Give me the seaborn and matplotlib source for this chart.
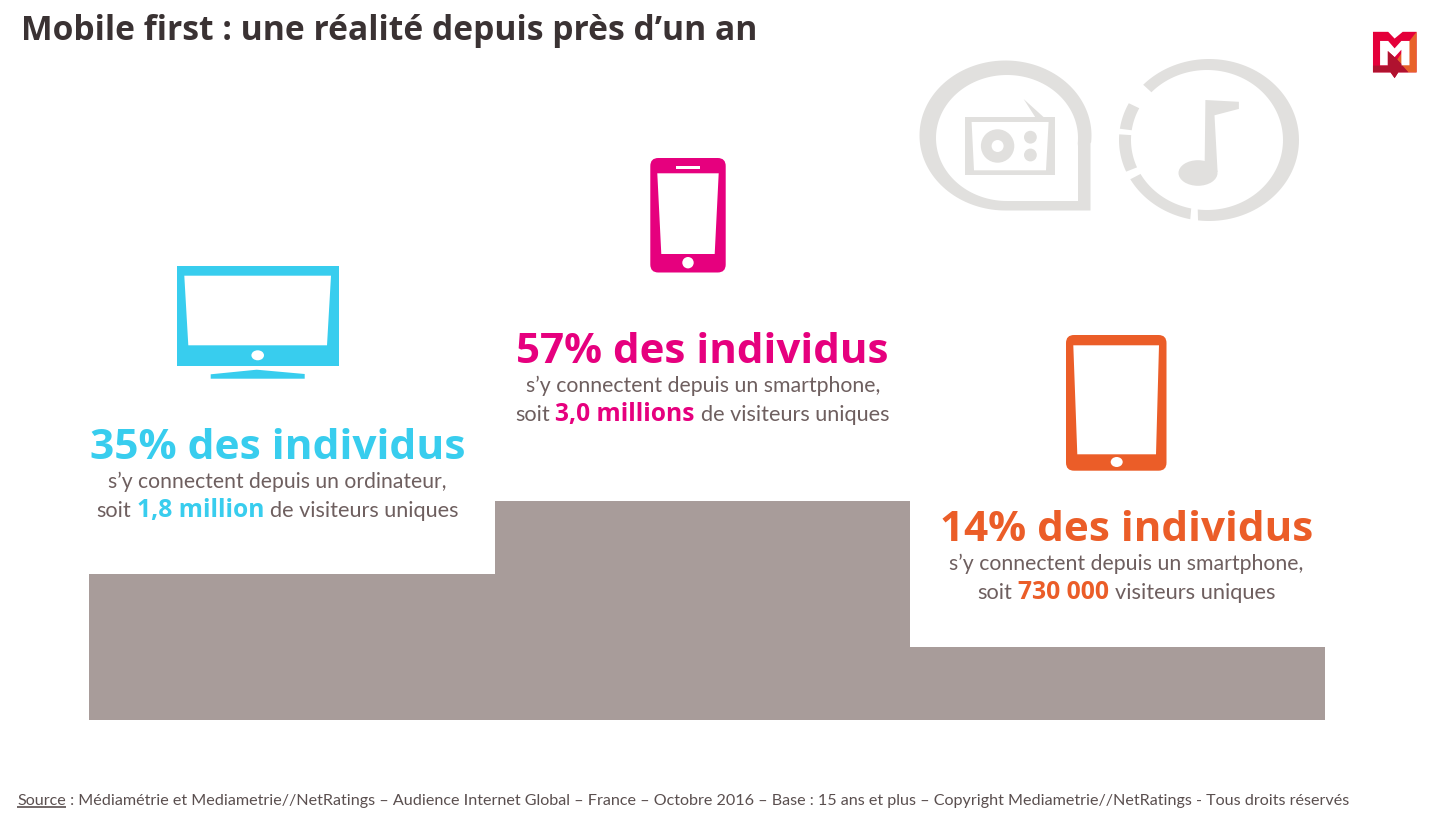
import numpy as np
import pandas as pd
import seaborn as sns
import matplotlib
matplotlib.use("Agg")
import matplotlib.pyplot as plt
from matplotlib.patches import Polygon, Ellipse, FancyBboxPatch, Rectangle

devices = ["Ordinateur", "Smartphone", "Tablette"]
step_heights = [2, 3, 1]
step_widths = [406, 415, 415]
palette = ["#A89C9A", "#A89C9A", "#A89C9A"]

title = "Mobile first : une réalité depuis près d’un an"
headlines = ["35% des individus", "57% des individus", "14% des individus"]
line_one = ["s’y connectent depuis un ordinateur,",
            "s’y connectent depuis un smartphone,",
            "s’y connectent depuis un smartphone,"]
line_two_lead = ["soit", "soit", "soit"]
line_two_value = ["1,8 million", "3,0 millions", "730 000"]
line_two_tail = ["de visiteurs uniques", "de visiteurs uniques", "visiteurs uniques"]
source_label = "Source"
source_rest = " : Médiamétrie et Mediametrie//NetRatings – Audience Internet Global – France – Octobre 2016 – Base : 15 ans et plus – Copyright Mediametrie//NetRatings - Tous droits réservés"

CYAN, PINK, ORANGE = "#38CDEE", "#E6007E", "#EB5D28"
GREY_TEXT, DARK, ICON = "#6E5F5F", "#3A3233", "#E1E0DE"
W, H = 1431, 818
FONT = "Lato"
HEAVY = "Open Sans"

sns.set_theme(style="white")
plt.rcParams["font.family"] = [FONT, "DejaVu Sans"]

fig = plt.figure(figsize=(W / 100, H / 100), dpi=100, facecolor="white")

# Bars
ax = fig.add_axes([89 / W, (H - 720) / H, 1236 / W, 219 / H])
df = pd.DataFrame({"device": devices, "step": step_heights})
sns.barplot(data=df, x="device", y="step", hue="device", palette=palette,
            width=1.0, legend=False, saturation=1, ax=ax)
edges = np.concatenate([[0], np.cumsum(step_widths)])
for p, left, width in zip(ax.patches, edges[:-1], step_widths):
    p.set_x(left)
    p.set_width(width)
    p.set_linewidth(0)
ax.set_xlim(0, edges[-1])
ax.set_ylim(0, max(step_heights))
ax.axis("off")

# Pixel overlay
px = fig.add_axes([0, 0, 1, 1], facecolor="none")
px.set_xlim(0, W)
px.set_ylim(H, 0)
px.axis("off")
renderer = fig.canvas.get_renderer()


def poly(points, color, z=3):
    px.add_patch(Polygon(points, closed=True, fc=color, ec="none", zorder=z))


def ell(cx, cy, rx, ry, color, z=4):
    px.add_patch(Ellipse((cx, cy), 2 * rx, 2 * ry, fc=color, ec="none", zorder=z))


def rrect(x0, y0, x1, y1, r, color, z=3):
    px.add_patch(FancyBboxPatch((x0 + r, y0 + r), x1 - x0 - 2 * r, y1 - y0 - 2 * r,
                                boxstyle=f"round,pad={r},rounding_size={r}",
                                fc=color, ec="none", zorder=z))


def fit(x0, x1, y, s, color, weight="normal", size=20, family=FONT):
    t = px.text(x0, y, s, color=color, fontweight=weight, fontsize=size,
                family=[family, "DejaVu Sans"], va="baseline", ha="left", zorder=6)
    for _ in range(3):
        w = t.get_window_extent(renderer).width
        t.set_fontsize(t.get_fontsize() * (x1 - x0) / w)
    return t


def runs(x0, x1, y, parts, gap=6.0):
    """parts: list of (text, colour, weight, size, family); fit into x0..x1."""
    items = []
    for s, c, wt, sz, fam in parts:
        items.append(px.text(0, y, s, color=c, fontweight=wt, fontsize=sz,
                             family=[fam, "DejaVu Sans"],
                             va="baseline", ha="left", zorder=6))
    ws = [t.get_window_extent(renderer).width for t in items]
    k = (x1 - x0 - gap * (len(items) - 1)) / sum(ws)
    x = x0
    for t, w in zip(items, ws):
        t.set_fontsize(t.get_fontsize() * k)
        t.set_x(x)
        x += w * k + gap


# Title and texts
fit(21, 758, 40, title, DARK, "bold", 23, HEAVY)
cols = [CYAN, PINK, ORANGE]
head_x = [(90, 465), (516, 889), (940, 1313)]
head_y = [459, 363, 541]
l1_x = [(108, 446), (526, 880), (949, 1304)]
l2_x = [(96, 458), (515, 889), (977, 1276)]
for i in range(3):
    fit(*head_x[i], head_y[i], headlines[i], cols[i], "bold", 28, HEAVY)
    fit(*l1_x[i], head_y[i] + 29, line_one[i], GREY_TEXT, "normal", 14.5)
    runs(*l2_x[i], head_y[i] + 58,
         [(line_two_lead[i], GREY_TEXT, "normal", 14.5, FONT),
          (line_two_value[i], cols[i], "bold", 16.5, HEAVY),
          (line_two_tail[i], GREY_TEXT, "normal", 14.5, FONT)])

# Source
fit(17, 66, 805, source_label, "#5A4F4F", "normal", 10.5)
fit(66, 1349, 805, source_rest, "#5A4F4F", "normal", 10.5)
px.plot([17, 66], [807, 807], color="#5A4F4F", lw=1.2, solid_capstyle="butt")

# TV
px.add_patch(Rectangle((176.5, 266), 162.5, 100, fc=CYAN, ec="none", zorder=3))
poly([(184.3, 275.7), (331, 275.7), (327, 345.3), (188.3, 345.3)], "white", 4)
ell(257.7, 355.3, 6.3, 5, "white")
poly([(210.7, 378.7), (210.7, 374.3), (256.7, 369.7), (304.7, 374), (304.7, 378.7)], CYAN)

# Phone
rrect(650.3, 158, 725.7, 272.5, 8, PINK)
px.add_patch(Rectangle((676.3, 165.7), 23.7, 3.3, fc="white", ec="none", zorder=4))
poly([(657.3, 173.3), (718.7, 173.3), (714.7, 254), (661.3, 254)], "white", 4)
ell(688, 262.7, 5.7, 5.7, "white")

# Tablet
rrect(1066, 335, 1166.5, 470.7, 8, ORANGE)
poly([(1073.3, 345.3), (1159, 345.3), (1156, 454.3), (1077.3, 454.3)], "white", 4)
ell(1116.7, 462, 6, 5, "white")


# Radio bubble
def bubble(cx, cy, rx, ry, corner_x, corner_y, color, z):
    a = np.radians(np.linspace(-5, 270, 120))
    pts = np.column_stack([cx + rx * np.cos(a), cy - ry * np.sin(a)])
    pts = np.vstack([pts, [corner_x, corner_y], [corner_x, cy + 8]])
    poly(pts, color, z)


bubble(1005.5, 135.5, 86, 75, 1090.5, 210.5, ICON, 1)
bubble(1007, 138, 71, 63, 1078, 201, "white", 2)
poly([(965, 117.3), (1055, 117.3), (1055, 175.4), (965, 175.4)], ICON, 3)
poly([(971.6, 122), (1048.6, 122), (1046, 170.3), (974, 170.3)], "white", 4)
poly([(1023.6, 99), (1035.8, 118), (1044.6, 118)], ICON, 3)
ell(997.6, 146, 16.7, 16.7, ICON, 5)
ell(997.6, 146, 6, 6, "white", 6)
ell(1030.4, 137.2, 6.4, 6.4, ICON, 5)
ell(1030.4, 155, 6.4, 6.4, ICON, 5)


# Music ring
def ring_seg(a0, a1):
    a = np.radians(np.linspace(a0, a1, 90))
    outer = np.column_stack([1209 + 90 * np.cos(a), 140 - 81 * np.sin(a)])
    inner = np.column_stack([1207 + 76 * np.cos(a), 140 - 70 * np.sin(a)])
    poly(np.vstack([outer, inner[::-1]]), ICON, 3)


for a0, a1 in [(263, 497), (153, 172), (176, 203), (209, 258)]:
    ring_seg(a0, a1)
poly([(1205.4, 100), (1238.9, 101.8), (1238.9, 108.9), (1214.5, 115.3),
      (1217.6, 172), (1204.7, 172), (1204.7, 160.5)], ICON, 3)
ell(1198, 173, 19.5, 12.8, ICON, 3)


# Logo
def lg(pts):
    return [(900 + x / 2.96, 20 + y / 2.96) for x, y in pts]


poly(lg([(1400, 35), (1445, 35), (1464, 55), (1488, 35), (1529, 35), (1529, 155),
         (1475, 155), (1464, 172), (1452, 155), (1400, 155)]), "#E4003A", 3)
poly(lg([(1529, 35), (1529, 155), (1505, 155), (1470, 120), (1508, 62)]), "#E8622A", 4)
poly(lg([(1400, 135), (1444, 135), (1464, 108), (1505, 155), (1475, 155), (1464, 172),
         (1452, 155), (1400, 155)]), "#B0122F", 4)
poly(lg([(1421, 62), (1445, 62), (1464, 84), (1484, 62), (1508, 62), (1508, 134),
         (1484, 134), (1484, 88), (1464, 110), (1444, 92), (1444, 134), (1421, 134)]),
     "white", 5)
poly(lg([(1444, 92), (1464, 110), (1484, 130), (1484, 134), (1444, 134)]), "#B0122F", 6)

fig.savefig("out.png", dpi=100, facecolor="white")
